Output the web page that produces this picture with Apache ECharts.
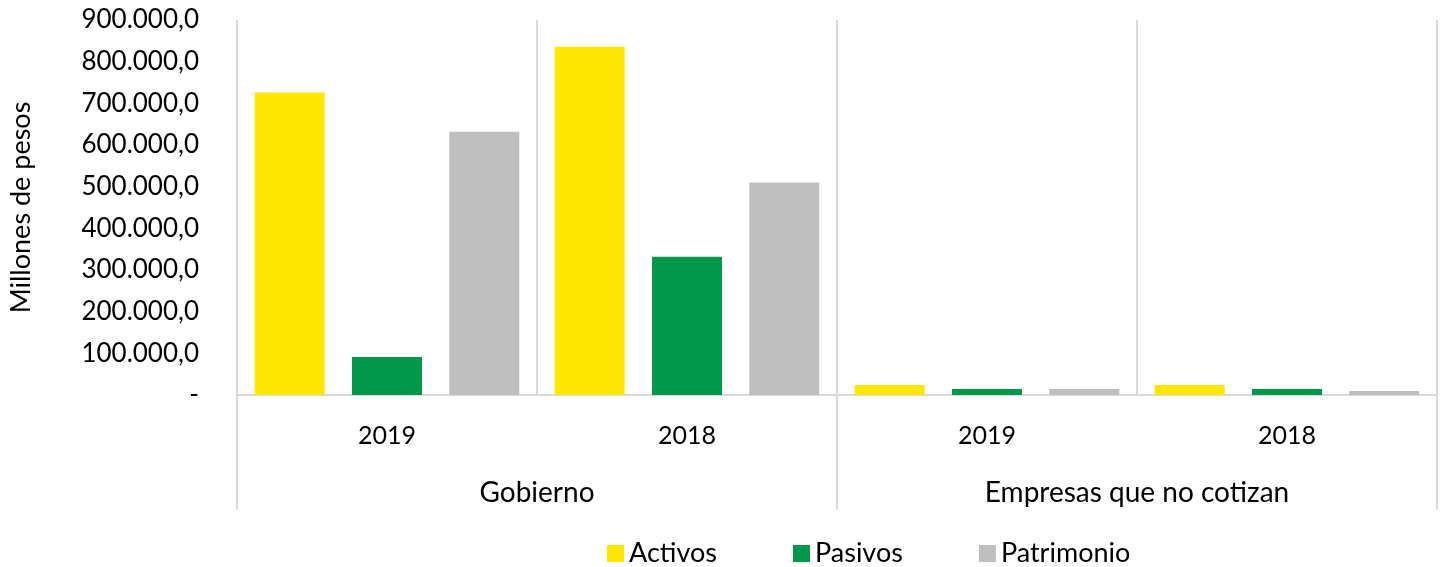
<!DOCTYPE html>
<html>
<head>
<meta charset="utf-8">
<script src="https://cdn.jsdelivr.net/npm/echarts@6/dist/echarts.min.js"></script>
<style>
  html, body { margin: 0; padding: 0; background: #fff; }
  #main { width: 1445px; height: 567px; }
</style>
</head>
<body>
<div id="main"></div>
<script>
// datos (millones de pesos)
var periodos = ['2019', '2018', '2019', '2018'];
var grupos = ['Gobierno', 'Empresas que no cotizan'];
var activos = [726000, 836000, 24000, 24000];
var pasivos = [91000, 332000, 14500, 14500];
var patrimonio = [632000, 510000, 14500, 9600];
var yTicks = [0, 100000, 200000, 300000, 400000, 500000, 600000, 700000, 800000, 900000];

var fuente = 'Lato';
var gris = '#d9d9d9';

function formato(v) {
    if (v === 0) return '-';
    var s = String(Math.round(v));
    s = s.replace(/\B(?=(\d{3})+(?!\d))/g, '.');
    return s + ',0';
}

var myChart = echarts.init(document.getElementById('main'));
var option = {
    backgroundColor: '#fff',
    textStyle: { fontFamily: fuente, color: '#000' },
    legend: {
        top: 535,
        left: 602,
        icon: 'rect',
        itemWidth: 17,
        itemHeight: 17,
        itemGap: 76,
        textStyle: { fontFamily: fuente, fontSize: 27, color: '#000' },
        data: ['Activos', 'Pasivos', 'Patrimonio']
    },
    grid: { left: 237, right: 8, top: 20, bottom: 172 },
    xAxis: [{
        type: 'category',
        data: periodos,
        axisLine: { show: true, lineStyle: { color: gris, width: 2 } },
        axisTick: { show: false },
        splitLine: { show: true, interval: 0, lineStyle: { color: gris, width: 2 } },
        axisLabel: { fontSize: 25, color: '#000', margin: 28, fontFamily: fuente }
    }, {
        type: 'category',
        position: 'bottom',
        data: grupos,
        axisLine: { show: false },
        axisTick: { show: true, interval: 0, length: 115, lineStyle: { color: gris, width: 2 } },
        splitLine: { show: false },
        axisLabel: { fontSize: 28, color: '#000', margin: 84, fontFamily: fuente }
    }],
    yAxis: {
        type: 'value',
        min: 0,
        max: yTicks[yTicks.length - 1],
        interval: yTicks[1] - yTicks[0],
        name: 'Millones de pesos',
        nameLocation: 'middle',
        nameRotate: 90,
        nameGap: 202,
        nameTextStyle: { fontSize: 27, color: '#000', fontFamily: fuente },
        axisLine: { show: false },
        axisTick: { show: false },
        splitLine: { show: false },
        axisLabel: { fontSize: 26, color: '#000', margin: 38, fontFamily: fuente, formatter: formato }
    },
    series: [{
        name: 'Activos',
        type: 'bar',
        data: activos,
        barWidth: 70,
        barGap: '39%',
        itemStyle: { color: '#FFE700' }
    }, {
        name: 'Pasivos',
        type: 'bar',
        data: pasivos,
        barWidth: 70,
        itemStyle: { color: '#00984A' }
    }, {
        name: 'Patrimonio',
        type: 'bar',
        data: patrimonio,
        barWidth: 70,
        itemStyle: { color: '#BFBFBF' }
    }]
};
myChart.setOption(option);
</script>
</body>
</html>
